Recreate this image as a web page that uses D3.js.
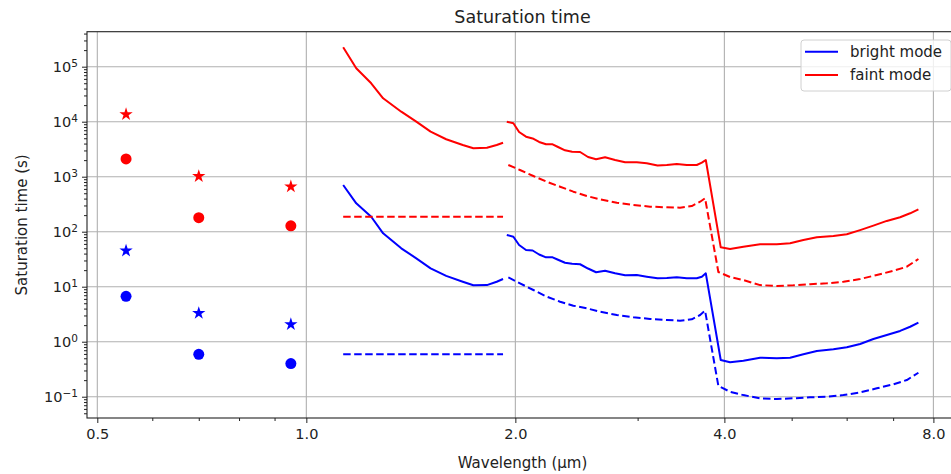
<!DOCTYPE html>
<html>
<head>
<meta charset="utf-8">
<script src="https://cdn.jsdelivr.net/npm/d3@7"></script>
<style>
  body { margin: 0; background: #fff; overflow: hidden; }
  svg { display: block; font-family: "DejaVu Sans", sans-serif; }
  .tick text { fill: #222; }
</style>
</head>
<body>
<script>
const w = 951;
const h = 474;
const padLeft = 87;
const padRight = 958;
const padTop = 31.7;
const padBottom = 418;

// photometric points (wavelength, seconds)
const markerWl = [0.55, 0.7, 0.95];
const faintStar = [13600, 1020, 660];
const faintDot = [2100, 180, 128];
const brightStar = [45, 3.3, 2.07];
const brightDot = [6.7, 0.59, 0.4];

// first spectral segment
const wlA = [1.13, 1.18, 1.24, 1.29, 1.37, 1.44, 1.51, 1.59, 1.68, 1.74, 1.82, 1.88, 1.92];
const brightA = [706, 328, 187, 93.5, 49.9, 32.8, 21.6, 15.7, 12.3, 10.6, 10.7, 12.3, 13.8];
const faintA = [225000, 93500, 49900, 26600, 15200, 10000, 6580, 4790, 3770, 3280, 3370, 3770, 4150];
const wlFlat = [1.13, 1.92];
const brightFlat = [0.59, 0.59];
const faintFlat = [187, 187];

// second + third spectral segment, solid
const wlB = [1.944, 1.987, 2.025, 2.072, 2.118, 2.164, 2.214, 2.263, 2.304, 2.358, 2.414, 2.479,
  2.545, 2.614, 2.693, 2.784, 2.878, 2.992, 3.092, 3.205, 3.305, 3.416, 3.531, 3.65, 3.712, 3.761,
  3.952, 4.076, 4.26, 4.503, 4.759, 4.974, 5.198, 5.435, 5.742, 6.003, 6.274, 6.556, 6.854, 7.164,
  7.406, 7.612];
const brightB = [87.1, 81.1, 57.3, 46.5, 45.5, 38.5, 34.2, 34.2, 30.9, 27.3, 26.1, 25.6, 21.4, 18.3,
  19.5, 17.5, 16.1, 16.3, 15.2, 14.2, 14.4, 14.8, 14.2, 14.2, 15.2, 17.5, 0.465, 0.422, 0.452,
  0.512, 0.499, 0.512, 0.59, 0.677, 0.727, 0.791, 0.908, 1.12, 1.32, 1.57, 1.87, 2.22];
const faintB = [10000, 9350, 6500, 5340, 4950, 4275, 3880, 3880, 3467, 3020, 2850, 2810, 2280, 2070,
  2254, 2013, 1828, 1828, 1753, 1600, 1633, 1702, 1633, 1633, 1797, 2013, 52, 48.5, 53.4, 59, 59,
  61.5, 70.6, 79.1, 83.5, 89.7, 107, 129, 157, 183, 216, 255];

// second + third spectral segment, dashed
const wlC = [1.954, 2.031, 2.123, 2.219, 2.32, 2.424, 2.534, 2.649, 2.8, 2.958, 3.126, 3.305, 3.453,
  3.59, 3.691, 3.752, 3.921, 4.076, 4.26, 4.503, 4.759, 5.028, 5.315, 5.618, 5.936, 6.274, 6.631,
  7.006, 7.325, 7.612];
const brightC = [14.8, 11.5, 8.71, 6.58, 5.34, 4.52, 4.05, 3.51, 3.06, 2.78, 2.59, 2.48, 2.41, 2.55,
  3.06, 3.66, 0.157, 0.123, 0.107, 0.0935, 0.0908, 0.0935, 0.0976, 0.1, 0.107, 0.12, 0.142, 0.168,
  0.201, 0.273];
const faintC = [1633, 1324, 1030, 811, 658, 534, 446, 388, 337, 306, 285, 278, 273, 293, 351, 405,
  18.5, 15, 13.2, 10.7, 10.3, 10.6, 11.1, 11.5, 12.3, 13.8, 16.3, 19.5, 23.1, 31.9];

const xTicks = [0.5, 1, 2, 4, 8];
const xMinor = [0.6, 0.7, 0.8, 0.9, 3, 5, 6, 7];
const yTicks = [0.1, 1, 10, 100, 1000, 10000, 100000];

const svg = d3.select("body").append("svg").attr("width", w).attr("height", h);

const xScale = d3.scaleLog().domain([0.4832, 8.68]).range([padLeft, padRight]);
const yScale = d3.scaleLog().domain([0.04102, 432500]).range([padBottom, padTop]);

const yMinor = [];
for (let e = -2; e <= 5; e++) {
  for (let s = 2; s <= 9; s++) {
    const v = s * Math.pow(10, e);
    if (v > yScale.domain()[0] && v < yScale.domain()[1]) yMinor.push(v);
  }
}

// grid
svg.append("g").selectAll("line").data(xTicks).enter().append("line")
  .attr("x1", (d) => xScale(d)).attr("x2", (d) => xScale(d))
  .attr("y1", padTop).attr("y2", padBottom)
  .attr("stroke", "#b0b0b0").attr("stroke-width", 1.1);
svg.append("g").selectAll("line").data(yTicks).enter().append("line")
  .attr("x1", padLeft).attr("x2", padRight)
  .attr("y1", (d) => yScale(d)).attr("y2", (d) => yScale(d))
  .attr("stroke", "#b0b0b0").attr("stroke-width", 1.1);

// axes
const xAxis = svg.append("g").attr("transform", `translate(0, ${padBottom})`)
  .call(d3.axisBottom(xScale).tickValues(xTicks).tickFormat(d3.format(".1f")).tickSize(5).tickPadding(6));
svg.append("g").attr("transform", `translate(0, ${padBottom})`)
  .call(d3.axisBottom(xScale).tickValues(xMinor).tickFormat("").tickSize(3));
const yAxis = svg.append("g").attr("transform", `translate(${padLeft}, 0)`)
  .call(d3.axisLeft(yScale).tickValues(yTicks).tickSize(5).tickPadding(4));
svg.append("g").attr("transform", `translate(${padLeft}, 0)`)
  .call(d3.axisLeft(yScale).tickValues(yMinor).tickFormat("").tickSize(3));

svg.selectAll(".domain").remove();
svg.selectAll(".tick line").attr("stroke", "#222").attr("stroke-width", 1);
xAxis.selectAll("text").attr("font-size", 14.5).attr("font-family", "DejaVu Sans");
yAxis.selectAll("text").attr("font-size", 14.5).attr("font-family", "DejaVu Sans")
  .each(function (d) {
    const t = d3.select(this);
    const e = Math.round(Math.log10(d));
    t.text(null);
    t.append("tspan").text("10");
    t.append("tspan").attr("dy", "-0.5em").attr("font-size", 10.5)
      .text(e < 0 ? "\u2212" + -e : String(e));
  });

// frame
svg.append("rect").attr("x", padLeft).attr("y", padTop)
  .attr("width", padRight - padLeft).attr("height", padBottom - padTop)
  .attr("fill", "none").attr("stroke", "#222").attr("stroke-width", 1.1);

// curves
const line = d3.line().x((d) => xScale(d[0])).y((d) => yScale(d[1]));
function curve(xs, ys, color, dashed) {
  svg.append("path")
    .datum(xs.map((x, i) => [x, ys[i]]))
    .attr("d", line)
    .attr("fill", "none")
    .attr("stroke", color)
    .attr("stroke-width", 2)
    .attr("stroke-linejoin", "round")
    .attr("stroke-dasharray", dashed ? "7.5,3.5" : null);
}

curve(wlA, brightA, "blue", false);
curve(wlA, faintA, "red", false);
curve(wlFlat, brightFlat, "blue", true);
curve(wlFlat, faintFlat, "red", true);
curve(wlB, brightB, "blue", false);
curve(wlB, faintB, "red", false);
curve(wlC, brightC, "blue", true);
curve(wlC, faintC, "red", true);

// markers
function dots(ys, color) {
  svg.append("g").selectAll("circle").data(markerWl).enter().append("circle")
    .attr("cx", (d) => xScale(d)).attr("cy", (d, i) => yScale(ys[i]))
    .attr("r", 5.5).attr("fill", color);
}
function stars(ys, color) {
  svg.append("g").selectAll("path").data(markerWl).enter().append("path")
    .attr("d", d3.symbol().type(d3.symbolStar).size(55))
    .attr("transform", (d, i) => `translate(${xScale(d)}, ${yScale(ys[i])})`)
    .attr("fill", color);
}
dots(faintDot, "red");
stars(faintStar, "red");
dots(brightDot, "blue");
stars(brightStar, "blue");

// titles
svg.append("text").attr("x", (padLeft + padRight) / 2).attr("y", 23)
  .attr("text-anchor", "middle").attr("font-size", 17.5).attr("fill", "#222")
  .text("Saturation time");
svg.append("text").attr("x", (padLeft + padRight) / 2).attr("y", 468)
  .attr("text-anchor", "middle").attr("font-size", 15).attr("fill", "#222")
  .text("Wavelength (\u00b5m)");
svg.append("text")
  .attr("transform", `translate(27, ${(padTop + padBottom) / 2}) rotate(-90)`)
  .attr("text-anchor", "middle").attr("font-size", 15).attr("fill", "#222")
  .text("Saturation time (s)");

// legend
const legend = svg.append("g").attr("transform", "translate(801, 40)");
legend.append("rect").attr("width", 150).attr("height", 51).attr("rx", 3)
  .attr("fill", "white").attr("fill-opacity", 0.8)
  .attr("stroke", "#d0d0d0").attr("stroke-width", 1);
const entries = [["bright mode", "blue"], ["faint mode", "red"]];
entries.forEach(([label, color], i) => {
  legend.append("line").attr("x1", 4).attr("x2", 37)
    .attr("y1", 11.7 + i * 23.3).attr("y2", 11.7 + i * 23.3)
    .attr("stroke", color).attr("stroke-width", 2);
  legend.append("text").attr("x", 49).attr("y", 17 + i * 23.3)
    .attr("font-size", 15).attr("fill", "#222").text(label);
});
</script>
</body>
</html>
